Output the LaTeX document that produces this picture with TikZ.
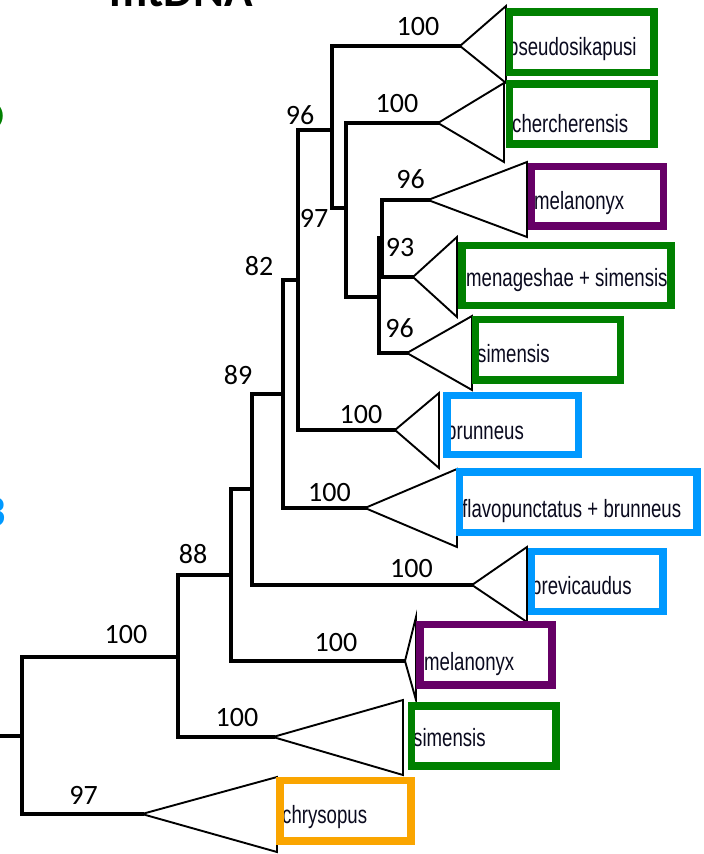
\documentclass[tikz,border=0pt]{standalone}
\usepackage{fontspec}
\setmainfont{Carlito}
\newfontfamily\taxfont[FakeStretch=0.745]{Liberation Sans}
\definecolor{cgreen}{RGB}{0,128,0}
\definecolor{cpurple}{RGB}{102,0,102}
\definecolor{cblue}{RGB}{0,153,255}
\definecolor{corange}{RGB}{250,165,0}
\definecolor{ctext}{RGB}{10,10,30}
\tikzset{
  branch/.style={line width=3.2pt, line join=miter, line cap=rect},
  tri/.style={line width=1.9pt, line join=miter, fill=white},
  taxbox/.style={line width=7.5pt},
  taxon/.style={anchor=base west, inner sep=0pt, text=ctext, font=\taxfont\fontsize{25}{27}\selectfont},
  boot/.style={anchor=center, inner sep=0pt, font=\fontsize{28}{30}\selectfont},
}
\begin{document}
\begin{tikzpicture}[x=1pt,y=-1pt]
\useasboundingbox (0,0) rectangle (704,854);
\fill[white] (0,0) rectangle (704,854);

% title and cut-off letters
\node[anchor=base, inner sep=0pt, font=\bfseries\fontsize{47}{50}\selectfont] (title) at (181,6) {mtDNA};
\node[anchor=base east, inner sep=0pt, text=cgreen, font=\bfseries\fontsize{44}{46}\selectfont] (gl) at (4.5,130) {D};
\node[anchor=base east, inner sep=0pt, text=cblue, font=\bfseries\fontsize{44}{46}\selectfont] (bl) at (6.5,526) {3};

% internal nodes
\coordinate (rootL) at (0,736);
\coordinate (root) at (22,736);
\coordinate (nA100) at (178,657);
\coordinate (n88) at (231,575);
\coordinate (n89) at (252,489);
\coordinate (n82) at (283,394);
\coordinate (n96a) at (298,280);
\coordinate (n96b) at (332,130);
\coordinate (n97) at (346,208);
\coordinate (nA) at (379,297);
\coordinate (nB) at (382,238);
% tips
\coordinate (tPseudo) at (460,46);
\coordinate (tCher) at (438,123);
\coordinate (tMel) at (428,200);
\coordinate (tMen) at (413,277);
\coordinate (tSim) at (407,353);
\coordinate (tBrun) at (395,430);
\coordinate (tFlavo) at (365,508);
\coordinate (tBrev) at (472,585);
\coordinate (tMelB) at (405,661);
\coordinate (tSimB) at (273,737);
\coordinate (tChrys) at (142,814);

% branches
\draw[branch] (rootL) -- (root);
\draw[branch] (root) |- (nA100);
\draw[branch] (root) |- (tChrys);
\draw[branch] (nA100) |- (n88);
\draw[branch] (nA100) |- (tSimB);
\draw[branch] (n88) |- (n89);
\draw[branch] (n88) |- (tMelB);
\draw[branch] (n89) |- (n82);
\draw[branch] (n89) |- (tBrev);
\draw[branch] (n82) |- (n96a);
\draw[branch] (n82) |- (tFlavo);
\draw[branch] (n96a) |- (n96b);
\draw[branch] (n96a) |- (tBrun);
\draw[branch] (n96b) |- (tPseudo);
\draw[branch] (n96b) |- (n97);
\draw[branch] (n97) |- (tCher);
\draw[branch] (n97) |- (nA);
\draw[branch] (nA) |- (nB);
\draw[branch] (nA) |- (tSim);
\draw[branch] (nB) |- (tMel);
\draw[branch] (nB) |- (tMen);

% collapsed clades
\draw[tri] (tPseudo) -- (506,6) -- (506,83) -- cycle;
\draw[tri] (tCher) -- (504,83) -- (504,162) -- cycle;
\draw[tri] (tMel) -- (527,162) -- (527,237) -- cycle;
\draw[tri] (tMen) -- (457,237) -- (457,317) -- cycle;
\draw[tri] (tSim) -- (472,316) -- (472,390) -- cycle;
\draw[tri] (tBrun) -- (439,393) -- (439,468) -- cycle;
\draw[tri] (tFlavo) -- (457,469) -- (457,547) -- cycle;
\draw[tri] (tBrev) -- (527,547) -- (527,622) -- cycle;
\draw[tri] (tMelB) -- (416,617) -- (416,700) -- cycle;
\draw[tri] (tSimB) -- (403,700) -- (403,775) -- cycle;
\draw[tri] (tChrys) -- (277,777) -- (277,852) -- cycle;

% taxon labels
\node[taxon] (lPseudo) at (508,55) {pseudosikapusi};
\node[taxon] (lCher) at (512,132) {chercherensis};
\node[taxon] (lMel) at (534,209) {melanonyx};
\node[taxon] (lMen) at (466,286) {menageshae + simensis};
\node[taxon] (lSim) at (477,362) {simensis};
\node[taxon] (lBrun) at (446,439) {brunneus};
\node[taxon] (lFlavo) at (462,517) {flavopunctatus + brunneus};
\node[taxon] (lBrev) at (531,594) {brevicaudus};
\node[taxon] (lMelB) at (424,670) {melanonyx};
\node[taxon] (lSimB) at (413,746) {simensis};
\node[taxon] (lChrys) at (282,823) {chrysopus};

% coloured boxes
\draw[taxbox, cgreen] (509.5,12) rectangle (654,72.5);
\draw[taxbox, cgreen] (509.5,84) rectangle (654,144);
\draw[taxbox, cpurple] (531.5,166.5) rectangle (663.5,226);
\draw[taxbox, cgreen] (462,245.5) rectangle (671,305.5);
\draw[taxbox, cgreen] (475.5,319.5) rectangle (620.5,380);
\draw[taxbox, cblue] (447,395.5) rectangle (578.5,454.5);
\draw[taxbox, cblue] (459.5,472) rectangle (697,532.5);
\draw[taxbox, cblue] (531.5,551.5) rectangle (663,611.5);
\draw[taxbox, cpurple] (420,624.5) rectangle (552,685);
\draw[taxbox, cgreen] (411.5,706) rectangle (556,766);
\draw[taxbox, corange] (280,780.5) rectangle (411,841);

% support values
\node[boot] (b1) at (418,27) {100};
\node[boot] (b2) at (397,103.5) {100};
\node[boot] (b3) at (300,115.5) {96};
\node[boot] (b4) at (314,218) {97};
\node[boot] (b5) at (410.5,179) {96};
\node[boot] (b6) at (400,247.5) {93};
\node[boot] (b7) at (399.5,328.5) {96};
\node[boot] (b8) at (259,266) {82};
\node[boot] (b9) at (361,414.5) {100};
\node[boot] (b10) at (238,375.5) {89};
\node[boot] (b11) at (329.5,492.5) {100};
\node[boot] (b12) at (411.5,569) {100};
\node[boot] (b13) at (193,554) {88};
\node[boot] (b14) at (336,642.5) {100};
\node[boot] (b15) at (126,635) {100};
\node[boot] (b16) at (237,718) {100};
\node[boot] (b17) at (83.5,795) {97};
\end{tikzpicture}
\end{document}
